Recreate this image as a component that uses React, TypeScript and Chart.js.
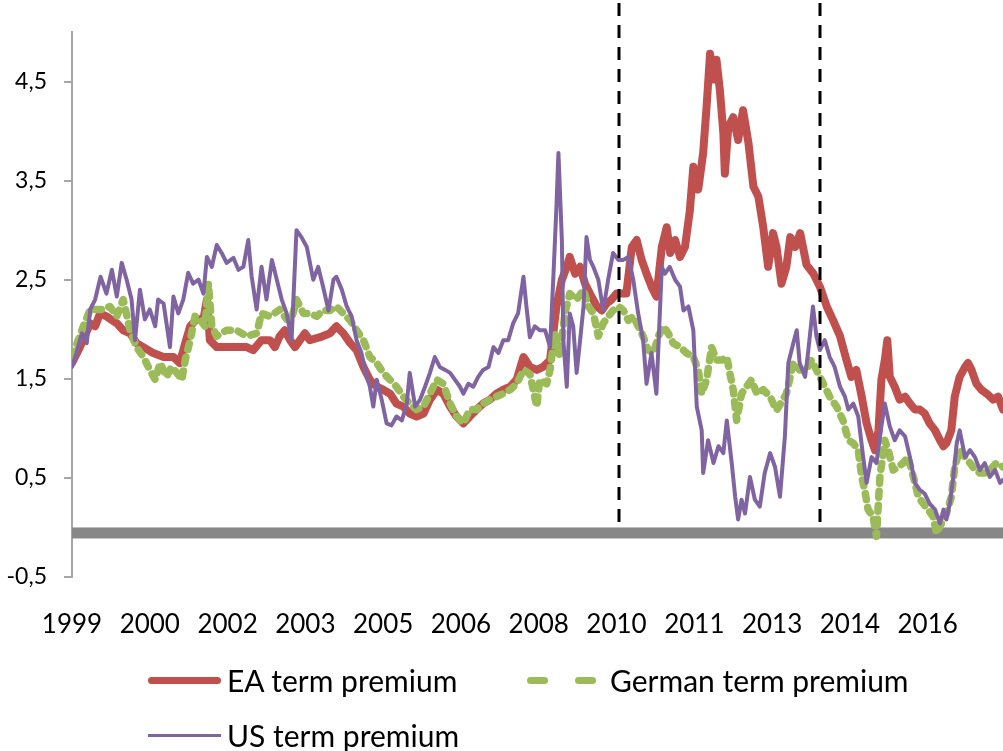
import React, { useEffect, useRef } from "react";
import { Chart, registerables } from "chart.js";

Chart.register(...registerables);

// ---------- data ----------
const seriesNames = ["EA term premium", "German term premium", "US term premium"];

const eaDates = [
  1999.0, 1999.16, 1999.37, 1999.47, 1999.57, 1999.7, 1999.91, 2000.04, 2000.18, 2000.31, 2000.45, 2000.65,
  2000.86, 2001.06, 2001.19, 2001.3, 2001.4, 2001.53, 2001.67, 2001.74, 2001.8, 2001.94, 2002.14, 2002.34,
  2002.55, 2002.68, 2002.85, 2003.02, 2003.12, 2003.22, 2003.32, 2003.43, 2003.53, 2003.63, 2003.73, 2003.83,
  2004.04, 2004.24, 2004.37, 2004.51, 2004.65, 2004.78, 2004.92, 2005.05, 2005.19, 2005.32, 2005.46, 2005.59,
  2005.73, 2005.86, 2006.0, 2006.14, 2006.27, 2006.41, 2006.54, 2006.68, 2006.81, 2006.95, 2007.08, 2007.22,
  2007.35, 2007.49, 2007.62, 2007.76, 2007.9, 2008.03, 2008.17, 2008.3, 2008.44, 2008.57, 2008.71, 2008.84,
  2008.95, 2009.05, 2009.11, 2009.22, 2009.32, 2009.42, 2009.52, 2009.66, 2009.76, 2009.86, 2009.96, 2010.06,
  2010.16, 2010.26, 2010.37, 2010.47, 2010.57, 2010.67, 2010.77, 2010.87, 2010.98, 2011.08, 2011.15, 2011.25,
  2011.35, 2011.45, 2011.55, 2011.62, 2011.72, 2011.82, 2011.89, 2011.96, 2012.03, 2012.09, 2012.16, 2012.23,
  2012.26, 2012.33, 2012.43, 2012.53, 2012.63, 2012.74, 2012.84, 2012.94, 2013.04, 2013.14, 2013.24, 2013.31,
  2013.41, 2013.51, 2013.59, 2013.69, 2013.79, 2013.92, 2014.06, 2014.19, 2014.33, 2014.46, 2014.6, 2014.73,
  2014.83, 2014.93, 2015.04, 2015.14, 2015.24, 2015.31, 2015.38, 2015.44, 2015.51, 2015.56, 2015.61, 2015.71,
  2015.81, 2015.92, 2016.02, 2016.12, 2016.22, 2016.32, 2016.42, 2016.53, 2016.63, 2016.7, 2016.76, 2016.86,
  2016.93, 2017.03, 2017.14, 2017.2, 2017.27, 2017.37, 2017.47, 2017.58, 2017.71, 2017.81, 2017.91,
];
const eaValues = [
  1.66, 1.82, 2.06, 2.03, 2.16, 2.13, 2.06, 1.99, 1.96, 1.86, 1.82, 1.76,
  1.72, 1.72, 1.66, 1.86, 2.03, 2.1, 2.1, 2.3, 1.89, 1.82, 1.82, 1.82,
  1.82, 1.79, 1.89, 1.89, 1.82, 1.93, 1.99, 1.89, 1.82, 1.89, 1.96, 1.89,
  1.92, 1.96, 2.03, 1.96, 1.86, 1.79, 1.62, 1.49, 1.42, 1.39, 1.35, 1.25,
  1.22, 1.15, 1.12, 1.15, 1.29, 1.39, 1.35, 1.22, 1.12, 1.05, 1.12, 1.19,
  1.25, 1.29, 1.35, 1.39, 1.42, 1.49, 1.72, 1.62, 1.59, 1.62, 1.69, 2.23,
  2.5, 2.63, 2.73, 2.56, 2.63, 2.46, 2.36, 2.23, 2.19, 2.26, 2.3, 2.36,
  2.36, 2.36, 2.83, 2.9, 2.7, 2.56, 2.43, 2.33, 2.83, 3.03, 2.77, 2.9,
  2.73, 2.83, 3.2, 3.64, 3.41, 3.78, 4.25, 4.78, 4.52, 4.72, 4.41, 3.98,
  3.57, 4.04, 4.14, 3.91, 4.21, 3.88, 3.44, 3.34, 3.03, 2.63, 2.97, 2.83,
  2.46, 2.63, 2.93, 2.83, 2.97, 2.65, 2.56, 2.43, 2.23, 2.09, 1.93, 1.69,
  1.52, 1.59, 1.32, 1.05, 0.88, 0.78, 0.98, 1.49, 1.69, 1.89, 1.52, 1.42,
  1.29, 1.32, 1.25, 1.19, 1.19, 1.15, 1.05, 0.98, 0.88, 0.82, 0.85, 0.98,
  1.32, 1.52, 1.62, 1.66, 1.59, 1.45, 1.39, 1.35, 1.29, 1.32, 1.19,
];

const deDates = [
  1999.0, 1999.23, 1999.37, 1999.5, 1999.64, 1999.77, 1999.91, 2000.04, 2000.18, 2000.31, 2000.45, 2000.58,
  2000.69, 2000.79, 2000.92, 2001.02, 2001.13, 2001.23, 2001.3, 2001.4, 2001.5, 2001.6, 2001.7, 2001.77,
  2001.84, 2001.94, 2002.14, 2002.34, 2002.55, 2002.75, 2002.85, 2003.02, 2003.22, 2003.36, 2003.46, 2003.56,
  2003.7, 2003.83, 2003.97, 2004.1, 2004.24, 2004.37, 2004.51, 2004.65, 2004.78, 2004.92, 2005.05, 2005.19,
  2005.32, 2005.46, 2005.59, 2005.73, 2005.86, 2006.0, 2006.14, 2006.27, 2006.41, 2006.54, 2006.68, 2006.81,
  2006.95, 2007.08, 2007.22, 2007.35, 2007.49, 2007.62, 2007.76, 2007.9, 2008.03, 2008.17, 2008.3, 2008.44,
  2008.5, 2008.64, 2008.71, 2008.81, 2008.91, 2009.01, 2009.11, 2009.25, 2009.39, 2009.49, 2009.59, 2009.69,
  2009.79, 2009.89, 2009.99, 2010.1, 2010.2, 2010.3, 2010.4, 2010.5, 2010.6, 2010.7, 2010.81, 2010.91,
  2011.01, 2011.11, 2011.21, 2011.35, 2011.48, 2011.62, 2011.72, 2011.79, 2011.89, 2011.99, 2012.09, 2012.2,
  2012.3, 2012.36, 2012.43, 2012.5, 2012.6, 2012.7, 2012.8, 2012.91, 2013.04, 2013.18, 2013.31, 2013.51,
  2013.65, 2013.78, 2013.92, 2014.02, 2014.12, 2014.26, 2014.39, 2014.53, 2014.66, 2014.77, 2014.87, 2014.97,
  2015.04, 2015.1, 2015.17, 2015.27, 2015.34, 2015.41, 2015.51, 2015.58, 2015.68, 2015.78, 2015.88, 2015.98,
  2016.09, 2016.19, 2016.29, 2016.39, 2016.49, 2016.56, 2016.66, 2016.76, 2016.86, 2016.93, 2017.03, 2017.14,
  2017.24, 2017.34, 2017.44, 2017.54, 2017.64, 2017.78, 2017.91,
];
const deValues = [
  1.72, 2.03, 2.2, 2.2, 2.2, 2.23, 2.13, 2.3, 1.99, 1.82, 1.72, 1.59,
  1.49, 1.66, 1.52, 1.62, 1.56, 1.49, 1.69, 1.89, 2.13, 2.1, 2.03, 2.46,
  2.03, 1.93, 1.99, 1.99, 1.93, 1.96, 2.16, 2.13, 2.2, 2.1, 2.1, 2.3,
  2.16, 2.16, 2.13, 2.19, 2.19, 2.23, 2.16, 2.09, 1.99, 1.89, 1.72, 1.66,
  1.56, 1.49, 1.42, 1.32, 1.25, 1.19, 1.22, 1.35, 1.49, 1.45, 1.25, 1.12,
  1.05, 1.19, 1.19, 1.25, 1.29, 1.32, 1.35, 1.39, 1.45, 1.59, 1.55, 1.22,
  1.49, 1.45, 1.59, 1.96, 1.72, 2.16, 2.36, 2.3, 2.4, 2.23, 2.16, 1.93,
  2.06, 2.13, 2.19, 2.23, 2.19, 2.09, 2.13, 2.03, 1.93, 1.79, 1.76, 1.93,
  2.03, 1.96, 1.86, 1.82, 1.76, 1.72, 1.59, 1.35, 1.49, 1.82, 1.69, 1.69,
  1.72, 1.56, 1.39, 1.08, 1.35, 1.42, 1.49, 1.35, 1.39, 1.32, 1.18, 1.35,
  1.66, 1.59, 1.59, 1.69, 1.59, 1.45, 1.32, 1.22, 1.08, 0.88, 0.85, 0.78,
  0.51, 0.38, 0.18, 0.11, -0.09, 0.51, 0.88, 0.78, 0.58, 0.61, 0.65, 0.71,
  0.51, 0.31, 0.24, 0.18, 0.11, -0.06, 0.04, 0.14, 0.31, 0.61, 0.78, 0.71,
  0.65, 0.58, 0.55, 0.55, 0.58, 0.65, 0.61,
];

const usDates = [
  1999.0, 1999.09, 1999.2, 1999.3, 1999.37, 1999.47, 1999.58, 1999.7, 1999.81, 1999.91, 2000.01, 2000.11,
  2000.21, 2000.28, 2000.38, 2000.48, 2000.58, 2000.69, 2000.75, 2000.86, 2000.99, 2001.06, 2001.16, 2001.26,
  2001.36, 2001.46, 2001.57, 2001.67, 2001.74, 2001.84, 2001.94, 2002.04, 2002.14, 2002.28, 2002.38, 2002.48,
  2002.58, 2002.65, 2002.75, 2002.85, 2002.95, 2003.06, 2003.16, 2003.26, 2003.36, 2003.46, 2003.56, 2003.66,
  2003.77, 2003.9, 2004.0, 2004.1, 2004.21, 2004.31, 2004.37, 2004.48, 2004.58, 2004.68, 2004.78, 2004.88,
  2004.95, 2005.05, 2005.12, 2005.19, 2005.29, 2005.39, 2005.49, 2005.59, 2005.7, 2005.8, 2005.86, 2005.97,
  2006.07, 2006.17, 2006.27, 2006.37, 2006.47, 2006.58, 2006.68, 2006.78, 2006.88, 2006.95, 2007.05, 2007.15,
  2007.25, 2007.35, 2007.46, 2007.56, 2007.66, 2007.76, 2007.86, 2007.96, 2008.06, 2008.17, 2008.23, 2008.3,
  2008.4, 2008.5, 2008.61, 2008.71, 2008.78, 2008.84, 2008.88, 2008.95, 2008.98, 2009.05, 2009.11, 2009.18,
  2009.25, 2009.32, 2009.39, 2009.45, 2009.52, 2009.59, 2009.69, 2009.79, 2009.89, 2009.99, 2010.1, 2010.2,
  2010.3, 2010.4, 2010.5, 2010.6, 2010.67, 2010.77, 2010.87, 2010.98, 2011.04, 2011.14, 2011.25, 2011.35,
  2011.42, 2011.52, 2011.62, 2011.69, 2011.79, 2011.82, 2011.92, 2012.03, 2012.13, 2012.23, 2012.3, 2012.4,
  2012.47, 2012.53, 2012.6, 2012.67, 2012.77, 2012.87, 2012.97, 2013.07, 2013.18, 2013.28, 2013.38, 2013.48,
  2013.55, 2013.65, 2013.72, 2013.78, 2013.89, 2013.95, 2014.05, 2014.12, 2014.19, 2014.29, 2014.39, 2014.49,
  2014.6, 2014.7, 2014.77, 2014.87, 2014.97, 2015.07, 2015.14, 2015.24, 2015.34, 2015.44, 2015.51, 2015.61,
  2015.71, 2015.81, 2015.92, 2016.02, 2016.12, 2016.22, 2016.32, 2016.42, 2016.53, 2016.63, 2016.7, 2016.76,
  2016.83, 2016.9, 2016.97, 2017.03, 2017.14, 2017.24, 2017.34, 2017.44, 2017.54, 2017.64, 2017.75, 2017.85,
  2017.91,
];
const usValues = [
  1.62, 1.76, 1.96, 1.86, 2.2, 2.3, 2.53, 2.36, 2.6, 2.33, 2.67, 2.5,
  2.3, 1.89, 2.4, 2.1, 2.2, 2.03, 2.3, 2.26, 1.82, 2.33, 2.16, 2.3,
  2.57, 2.46, 2.5, 2.36, 2.73, 2.63, 2.85, 2.77, 2.67, 2.72, 2.6, 2.63,
  2.9, 2.53, 2.2, 2.63, 2.3, 2.7, 2.5, 2.3, 2.16, 1.89, 3.0, 2.93,
  2.83, 2.5, 2.63, 2.43, 2.19, 2.5, 2.53, 2.4, 2.23, 2.13, 1.89, 1.76,
  1.59, 1.42, 1.22, 1.49, 1.29, 1.05, 1.03, 1.12, 1.08, 1.25, 1.56, 1.22,
  1.29, 1.42, 1.56, 1.72, 1.62, 1.59, 1.56, 1.49, 1.42, 1.35, 1.45, 1.42,
  1.52, 1.59, 1.62, 1.82, 1.76, 1.89, 1.89, 2.06, 2.16, 2.53, 2.23, 1.92,
  2.03, 1.99, 1.99, 1.82, 2.56, 3.24, 3.78, 2.9, 1.89, 1.42, 2.16, 2.03,
  1.56, 1.89, 2.23, 2.93, 2.7, 2.63, 2.5, 2.19, 2.5, 2.77, 2.7, 2.7,
  2.73, 2.5, 2.16, 1.89, 1.45, 1.76, 1.35, 2.63, 2.56, 2.63, 2.5, 2.43,
  2.19, 2.23, 1.99, 1.22, 0.98, 0.55, 0.88, 0.65, 0.82, 0.75, 1.08, 0.65,
  0.31, 0.08, 0.28, 0.14, 0.51, 0.28, 0.21, 0.55, 0.75, 0.61, 0.31, 0.92,
  1.66, 1.86, 1.99, 1.66, 1.52, 1.76, 2.23, 1.93, 1.79, 1.89, 1.72, 1.62,
  1.42, 1.32, 1.19, 1.25, 1.12, 0.71, 0.45, 0.71, 0.65, 1.02, 1.25, 1.02,
  0.88, 0.98, 0.92, 0.71, 0.45, 0.38, 0.34, 0.24, 0.18, 0.04, 0.18, 0.08,
  0.24, 0.51, 0.85, 0.98, 0.71, 0.78, 0.71, 0.58, 0.65, 0.51, 0.58, 0.45,
  0.48,
];

const xTickLabels = ["1999", "2000", "2002", "2003", "2005", "2006", "2008", "2010", "2011", "2013", "2014", "2016"];
const xStart = 1999.0;
const xEnd = 2017.91;
const xLabelInterval = 1.58;
const yTickValues = [-0.5, 0.5, 1.5, 2.5, 3.5, 4.5];
const yMin = -0.5;
const yMax = 5.0;
const crisisDates = [2010.11, 2014.2];

const EA_COLOR = "#C0504D";
const DE_COLOR = "#9BBB59";
const US_COLOR = "#8064A2";
const AXIS_GREY = "#A6A6A6";
const BAND_GREY = "#878787";
const FONT = "Lato, 'Open Sans', sans-serif";

const toPoints = (xs: number[], ys: number[]) => xs.map((x, i) => ({ x, y: ys[i] }));

const overlayPlugin = {
  id: "overlay",
  beforeDatasetsDraw(chart: any) {
    const { ctx, chartArea, scales } = chart;
    const y0 = scales.y.getPixelForValue(0);
    ctx.save();
    ctx.fillStyle = BAND_GREY;
    ctx.fillRect(chartArea.left, y0, chartArea.right - chartArea.left, 11);
    ctx.restore();
  },
  afterDatasetsDraw(chart: any) {
    const { ctx, scales } = chart;
    const y0 = scales.y.getPixelForValue(0);
    ctx.save();
    ctx.strokeStyle = "#000000";
    ctx.lineWidth = 3;
    ctx.setLineDash([13, 9]);
    ctx.lineDashOffset = -3;
    crisisDates.forEach((d) => {
      const px = Math.round(scales.x.getPixelForValue(d));
      ctx.beginPath();
      ctx.moveTo(px, 0);
      ctx.lineTo(px, y0);
      ctx.stroke();
    });
    ctx.restore();
  },
};

export default function App() {
  const ref = useRef<HTMLCanvasElement | null>(null);

  useEffect(() => {
    if (!ref.current) return;
    const chart = new Chart(ref.current, {
      type: "line",
      data: {
        datasets: [
          {
            label: seriesNames[0],
            data: toPoints(eaDates, eaValues),
            borderColor: EA_COLOR,
            backgroundColor: EA_COLOR,
            borderWidth: 8,
            order: 3,
          },
          {
            label: seriesNames[1],
            data: toPoints(deDates, deValues),
            borderColor: DE_COLOR,
            backgroundColor: DE_COLOR,
            borderWidth: 7.5,
            borderDash: [6, 8],
            order: 2,
          },
          {
            label: seriesNames[2],
            data: toPoints(usDates, usValues),
            borderColor: US_COLOR,
            backgroundColor: US_COLOR,
            borderWidth: 4,
            order: 1,
          },
        ],
      },
      options: {
        animation: false,
        responsive: false,
        devicePixelRatio: 1,
        elements: {
          point: { radius: 0, hoverRadius: 0 },
          line: { tension: 0, borderJoinStyle: "round", borderCapStyle: "round", fill: false },
        },
        layout: { padding: { top: 32, right: 0, left: 0, bottom: 0 } },
        plugins: {
          legend: { display: false },
          tooltip: { enabled: false },
          title: { display: false },
        },
        scales: {
          x: {
            type: "linear",
            min: xStart,
            max: xEnd,
            position: "bottom",
            grid: { display: false, drawTicks: false },
            border: { display: false },
            afterBuildTicks: (s: any) => {
              s.ticks = xTickLabels.map((_, k) => ({ value: xStart + k * xLabelInterval }));
            },
            afterFit: (s: any) => {
              s.height = 174;
            },
            ticks: {
              autoSkip: false,
              maxRotation: 0,
              minRotation: 0,
              padding: 32,
              color: "#000000",
              font: { family: FONT, size: 26 },
              callback: (_v: any, i: number) => xTickLabels[i] ?? "",
            },
          },
          y: {
            type: "linear",
            min: yMin,
            max: yMax,
            position: "left",
            grid: { display: true, drawOnChartArea: false, drawTicks: true, tickLength: 8, color: AXIS_GREY, lineWidth: 2 },
            border: { display: true, color: AXIS_GREY, width: 2 },
            afterBuildTicks: (s: any) => {
              s.ticks = yTickValues.map((v) => ({ value: v }));
            },
            afterFit: (s: any) => {
              s.width = 72;
            },
            ticks: {
              padding: 17,
              color: "#000000",
              font: { family: FONT, size: 23 },
              callback: (v: any) => String(v).replace(".", ","),
            },
          },
        },
      },
      plugins: [overlayPlugin],
    });
    return () => chart.destroy();
  }, []);

  const rowStyle: React.CSSProperties = {
    position: "absolute",
    height: 40,
    display: "flex",
    alignItems: "center",
    fontFamily: FONT,
    fontSize: 30,
    color: "#000000",
    whiteSpace: "nowrap",
  };

  return (
    <div style={{ position: "absolute", left: 0, top: 0, width: 1003, height: 751, background: "#ffffff", overflow: "hidden" }}>
      <canvas ref={ref} width={1003} height={751} style={{ display: "block", width: 1003, height: 751 }} />
      <div style={{ ...rowStyle, left: 148, top: 660 }}>
        <div style={{ width: 73, height: 7, borderRadius: 3.5, background: EA_COLOR }} />
        <span style={{ marginLeft: 6 }}>{seriesNames[0]}</span>
      </div>
      <div style={{ ...rowStyle, left: 527, top: 660 }}>
        <div style={{ width: 21, height: 7, borderRadius: 3.5, background: DE_COLOR }} />
        <div style={{ width: 21, height: 7, borderRadius: 3.5, background: DE_COLOR, marginLeft: 27 }} />
        <span style={{ marginLeft: 14 }}>{seriesNames[1]}</span>
      </div>
      <div style={{ ...rowStyle, left: 148, top: 715 }}>
        <div style={{ width: 73, height: 3, background: US_COLOR }} />
        <span style={{ marginLeft: 6 }}>{seriesNames[2]}</span>
      </div>
    </div>
  );
}
